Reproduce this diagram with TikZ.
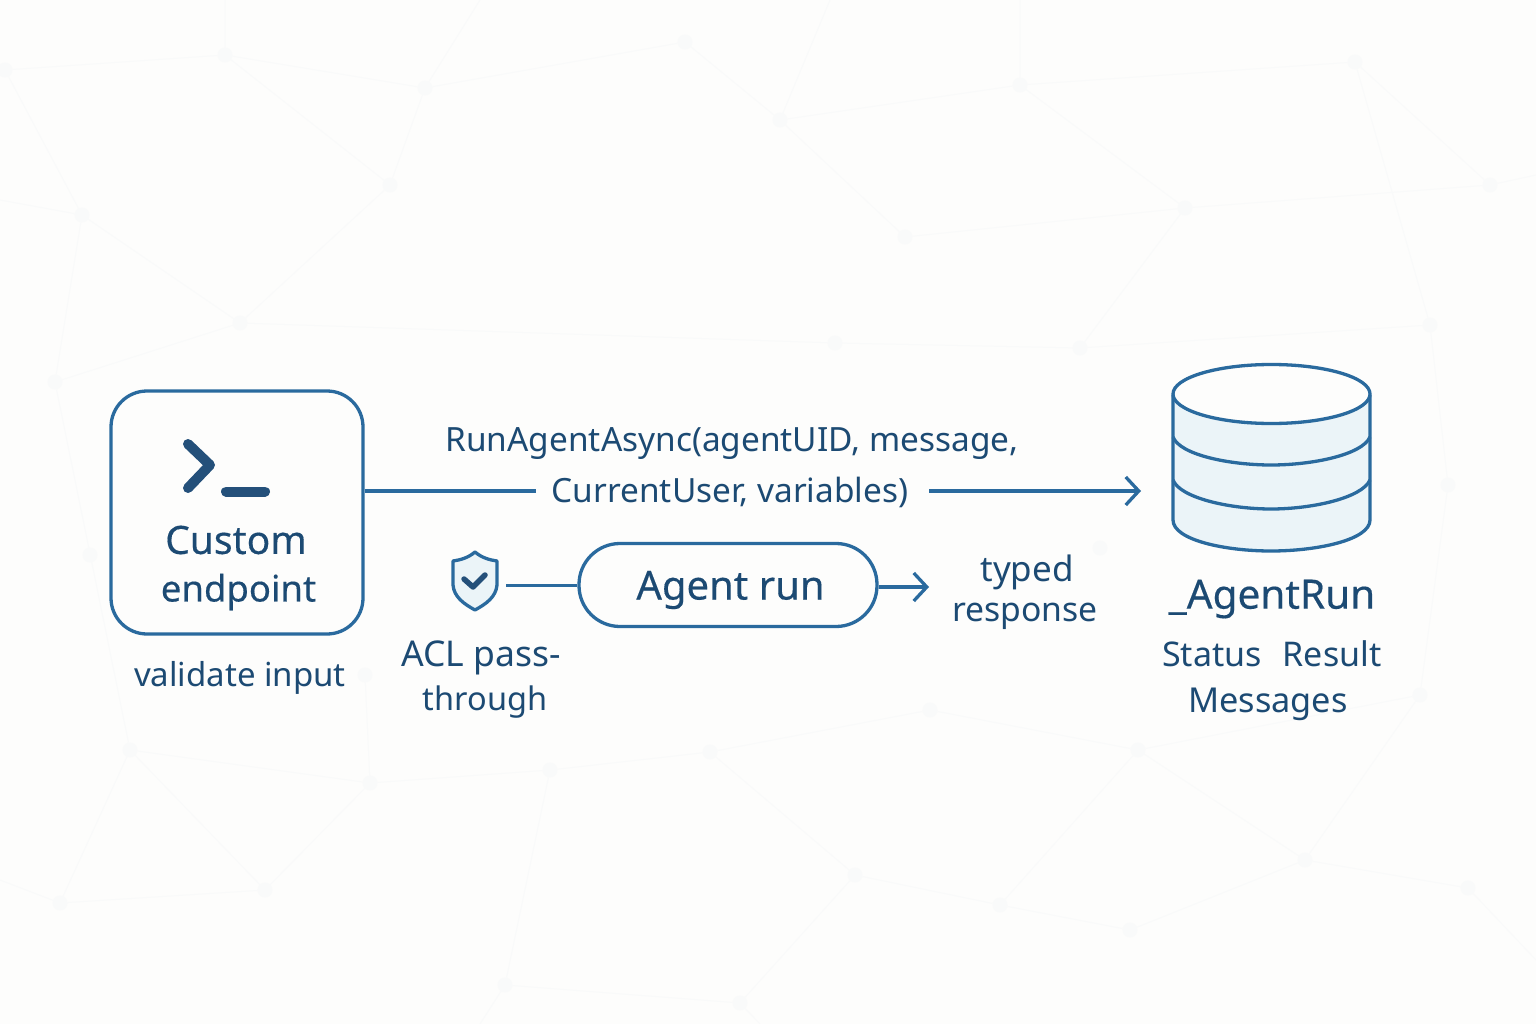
\documentclass[tikz,border=0pt]{standalone}
\usepackage{fontspec}
\setmainfont{Noto Sans}
\newfontfamily\medfont[FakeBold=0.35]{Noto Sans}
\usetikzlibrary{arrows.meta}
\definecolor{bgc}{HTML}{FDFDFC}
\definecolor{netc}{HTML}{F9FAFA}
\definecolor{linec}{HTML}{2A6A9E}
\definecolor{textc}{HTML}{1C4A73}
\definecolor{iconc}{HTML}{24507A}
\definecolor{fillc}{HTML}{EBF4F8}
\tikzset{
  net/.style={draw=netc,line width=1pt},
  netdot/.style={circle,fill=netc,inner sep=0pt,minimum size=15pt},
  outl/.style={draw=linec,line width=3.3pt},
  conn/.style={draw=linec,line width=3.3pt},
  arrowed/.style={conn,-{Straight Barb[length=13pt,width=28pt,line width=3.3pt]}},
  lab/.style={text=textc,font=\fontsize{#1}{44}\selectfont,align=center,inner sep=0pt},
  lab/.default=33.4,
  biglab/.style={text=textc,font=\fontsize{#1}{48}\medfont,align=center,inner sep=0pt},
}
\begin{document}
\begin{tikzpicture}[x=1pt,y=-1pt]
\useasboundingbox (0,0) rectangle (1536,1024);
\fill[bgc] (0,0) rectangle (1536,1024);
% faint background network
\foreach \n/\x/\y in {a/5/70,b/225/55,c/425/88,d/685/42,e/780/120,f/1020/85,g/1355/62,h/1490/185,i/1185/208,j/905/237,k/390/185,l/82/215,m/240/323,n/55/382,o/835/343,p/1080/348,q/1430/325,r/130/750,s/370/783,t/550/770,u/710/752,v/930/710,w/1138/750,x/1420/695,y/1305/860,z/1468/888,aa/1000/905,ab/855/875,ac/265/890,ad/60/903,ae/505/985,af/740/1003,ag/1130/930,ah/365/675,ai/90/555,aj/1100/548,ak/1448/485}
  {\node[netdot] (\n) at (\x,\y) {};}
\foreach \p/\q in {a/b,b/c,a/l,l/m,b/k,c/k,c/d,d/e,e/f,f/g,g/h,h/i,i/j,j/e,f/i,k/m,m/n,n/l,m/o,o/p,p/q,q/g,i/p,q/ak,r/s,s/t,t/u,u/v,v/w,w/x,x/y,y/z,w/aa,aa/ab,ab/u,ab/af,af/ae,ae/t,ac/s,ac/r,ad/r,ad/ac,aa/ag,ag/y,y/w,s/ah,n/r,ak/x}
  {\draw[net] (\p) -- (\q);}
\draw[net] (225,0) -- (b) (480,0) -- (c) (830,0) -- (e) (1020,0) -- (f) (ae) -- (480,1024) (af) -- (760,1024) (z) -- (1536,960) (h) -- (1536,175) (l) -- (0,200) (ad) -- (0,880);
% custom endpoint
\node[outl,fill=bgc,rounded corners=36pt,minimum width=252pt,minimum height=243pt,inner sep=0pt] (endpoint) at (237,512.5) {};
\coordinate (ch1) at (188,444); \coordinate (ch2) at (210,465); \coordinate (ch3) at (188,488);
\draw[iconc,line width=10pt,line cap=round,line join=round] (ch1) -- (ch2) -- (ch3);
\coordinate (us1) at (226,491.5); \coordinate (us2) at (265,491.5);
\draw[iconc,line width=10pt,line cap=round] (us1) -- (us2);
\node[biglab=39] (title) at (236,540) {Custom};
\node[biglab=36.5] (endp) at (238.5,592) {endpoint};
\node[lab=33] (validate) at (240,678) {validate input};
% top label and arrow
\node[lab] (call1) at (732,444) {RunAgentAsync(agentUID, message,};
\node[lab] (call2) at (730,492) {CurrentUser, variables)};
\coordinate (gapl) at (536,491); \coordinate (gapr) at (929,491);
\coordinate (dbin) at (1141,491);
\draw[conn] (endpoint.east |- gapl) -- (gapl);
\draw[arrowed] (gapr) -- (dbin);
% shield
\node[inner sep=0pt,minimum size=1pt] (shield) at (475,581) {};
\draw[outl,fill=fillc,line join=round] (475,552) .. controls (482,558) and (490,560) .. (497,561) -- (497,585) .. controls (496,597) and (486,604) .. (475,610) .. controls (464,604) and (454,597) .. (453,585) -- (453,561) .. controls (460,560) and (468,558) .. (475,552) -- cycle;
\draw[iconc,line width=5.5pt,line cap=round,line join=round] (464,579) -- (473,587) -- (485,575);
\node[lab=35.5] (acl) at (481,658) {ACL pass-};
\node[lab=32.5] (through) at (485,702) {through};
% agent run
\node[outl,fill=bgc,rounded corners=41pt,minimum width=298pt,minimum height=83pt,inner sep=0pt] (run) at (728,585) {};
\node[biglab=40] at (730.5,590) (runlab) {Agent run};
\coordinate (shr) at (506,585.5);
\draw[conn] (shr) -- (run.west |- shr);
\coordinate (typedin) at (929,587);
\draw[arrowed] (run.east |- typedin) -- (typedin);
\node[lab=35] (typed) at (1027,572) {typed};
\node[lab=33.7] (resp) at (1025,616) {response};
% database
\fill[fillc] (1173,395) -- (1173,520) .. controls (1173,540) and (1225,551) .. (1271,551) .. controls (1317,551) and (1370,540) .. (1370,520) -- (1370,395) -- cycle;
\draw[outl] (1173,395) -- (1173,520) .. controls (1173,540) and (1225,551) .. (1271,551) .. controls (1317,551) and (1370,540) .. (1370,520) -- (1370,395);
\draw[outl] (1173,437) .. controls (1180,455) and (1230,465) .. (1271,465) .. controls (1312,465) and (1362,455) .. (1370,437);
\draw[outl] (1173,480) .. controls (1180,498) and (1230,509) .. (1271,509) .. controls (1312,509) and (1362,498) .. (1370,480);
\draw[outl,fill=bgc] (1271.5,394) ellipse [x radius=98.5pt,y radius=29.5pt];
\node[biglab=40.5] (ar) at (1272,599) {\_AgentRun};
\node[lab=34] (status) at (1212,654) {Status};
\node[lab=34] (result) at (1332,654) {Result};
\node[lab=34.3] (msgs) at (1268,704) {Messages};
\end{tikzpicture}
\end{document}
